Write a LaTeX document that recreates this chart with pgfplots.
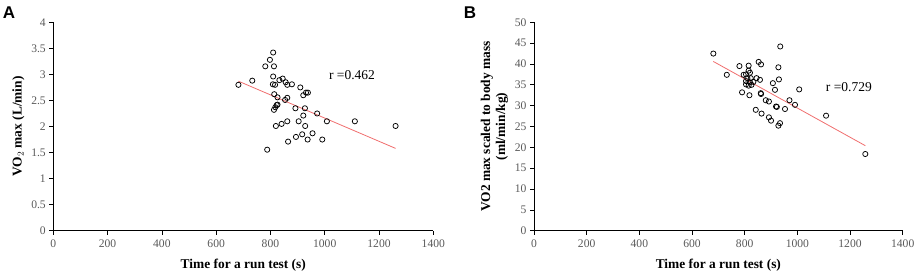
\documentclass[border=0pt]{standalone}
\usepackage{pgfplots}
\pgfplotsset{compat=1.18}
\usepackage{fontspec}
\setmainfont{Liberation Serif}
\newfontfamily\arialfont{Liberation Sans}
\definecolor{tickgray}{RGB}{89,89,89}
\definecolor{trendred}{RGB}{240,110,110}
\pgfplotsset{
  panel/.style={
    scale only axis,
    axis lines=left,
    axis line style={-,black,line width=0.7pt},
    tick align=outside,
    tick style={black,line width=0.7pt},
    major tick length=4pt,
    xmin=0,xmax=1400,
    xtick={0,200,...,1400},
    ymin=0,
    ticklabel style={font=\fontsize{11.6}{13}\selectfont,text=tickgray},
    xticklabel style={yshift=-1.5pt},
    /pgf/number format/assume math mode=true,
    /pgf/number format/fixed,
    /pgf/number format/1000 sep={},
    xlabel={Time for a run test (s)},
    xlabel style={font=\fontsize{13.4}{15}\selectfont\bfseries,yshift=-5pt},
    ylabel style={font=\fontsize{13.4}{15}\selectfont\bfseries},
    clip=false,
  },
  pts/.style={only marks,mark=o,mark size=2.6pt,mark options={black,line width=0.75pt}},
  trend/.style={trendred,line width=0.8pt,no marks},
}
\begin{document}
\begin{tikzpicture}
\path[use as bounding box] (0,0) rectangle (920pt,279pt);
% Panel A
\begin{axis}[panel,
  at={(53.3pt,48.3pt)},anchor=south west,
  width=380pt,height=208.4pt,
  ymax=4,ytick={0,0.5,...,4},
  ylabel={VO$_{2}$ max (L/min)},
  ylabel style={yshift=0pt},
]
\addplot[pts] coordinates {
(682,2.80) (733,2.88) (781,3.155) (798,3.28) (810,3.42) (813,3.155)
(810,2.96) (809,2.81) (817,2.80) (814,2.62) (826,2.56) (823,2.41)
(818,2.37) (813,2.32) (826,2.42) (820,2.01) (833,2.89) (845,2.92) (856,2.85)
(862,2.80) (879,2.81) (862,2.55) (854,2.51) (841,2.05) (862,2.10)
(865,1.71) (788,1.555) (892,2.35) (910,2.75) (921,2.60) (931,2.65)
(938,2.65) (927,2.35) (921,2.21) (904,2.10) (928,2.01) (894,1.80)
(917,1.85) (937,1.75) (955,1.87) (972,2.25) (991,1.75) (1008,2.10)
(1111,2.10) (1261,2.01)
};
\addplot[trend] coordinates {(682,2.87) (1261,1.58)};
\node[anchor=west,font=\fontsize{13.5}{15}\selectfont] at (axis cs:1003,2.99) {r =0.462};
\end{axis}
\node[font=\arialfont\bfseries\fontsize{17}{19}\selectfont] at (9pt,266pt) {A};
% Panel B
\begin{axis}[panel,
  at={(534pt,48.3pt)},anchor=south west,
  width=368.7pt,height=208.4pt,
  ymax=50,ytick={0,5,...,50},
  ylabel={VO2 max scaled to body mass\\(ml/min/kg)},
  ylabel style={align=center,yshift=0pt},
]
\addplot[pts] coordinates {
(681,42.5) (732,37.4) (780,39.5) (790,33.2) (796,37.4) (805,37.5)
(805,35.9) (805,35.1) (810,36.6) (815,39.6) (815,38.4) (815,34.8)
(820,37.9) (820,35.6) (818,32.5) (823,36.6) (826,35.0) (833,35.7)
(842,29.0) (845,36.6) (853,40.5) (858,36.2) (861,33.0) (862,32.8)
(862,39.9) (864,28.1) (880,31.3) (892,31.0) (892,27.2) (900,26.4)
(907,35.4) (915,33.8) (919,29.8) (922,29.7) (928,39.2) (928,25.2)
(930,36.3) (934,25.8) (935,44.2) (953,29.2) (970,31.3) (991,30.2)
(1007,33.9) (1109,27.6) (1258,18.4)
};
\addplot[trend] coordinates {(681,40.6) (1258,20.4)};
\node[anchor=west,font=\fontsize{13.5}{15}\selectfont] at (axis cs:1095,34.4) {r =0.729};
\end{axis}
\node[font=\arialfont\bfseries\fontsize{17}{19}\selectfont] at (470pt,266pt) {B};
\end{tikzpicture}
\end{document}
